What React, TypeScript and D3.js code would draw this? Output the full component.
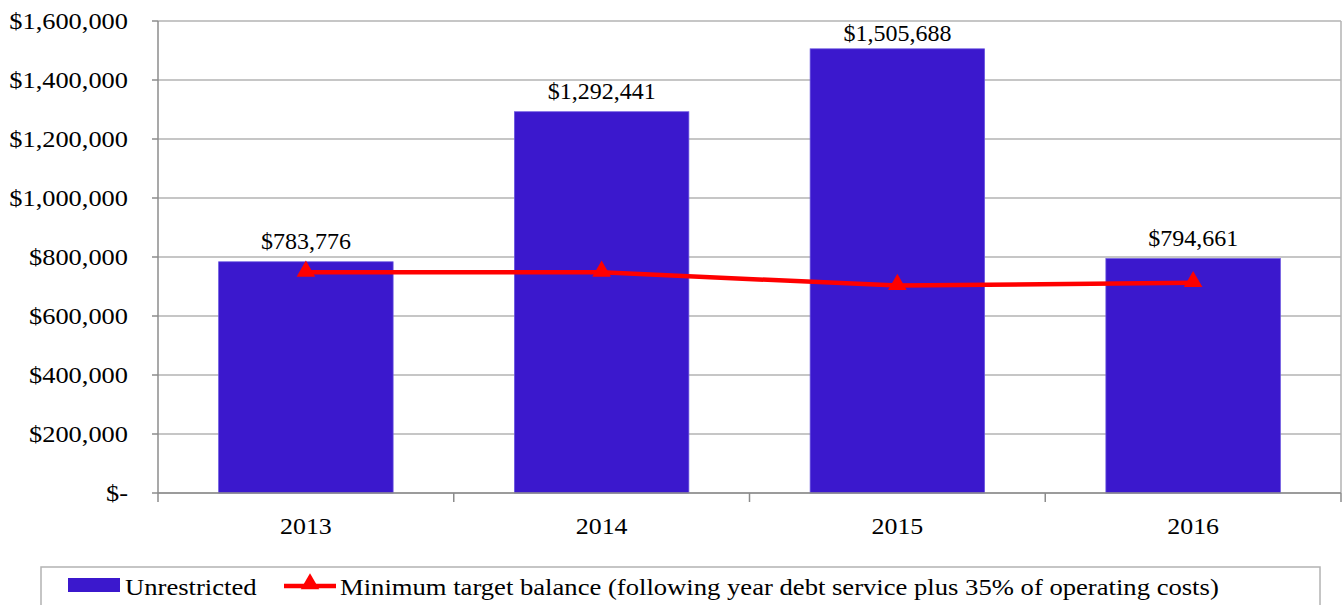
import React from "react";
import * as d3 from "d3";

const years = ["2013", "2014", "2015", "2016"];
const unrestricted = [783776, 1292441, 1505688, 794661];
const minTarget = [748000, 748000, 703000, 713000];
const yTicks = [0, 200000, 400000, 600000, 800000, 1000000, 1200000, 1400000, 1600000];
const legendLabels = [
  "Unrestricted",
  "Minimum target balance (following year debt service plus 35% of operating costs)",
];

const W = 1343;
const H = 605;
const left = 158;
const right = 1341;
const top = 21;
const bottom = 493;
const FONT = "Liberation Serif, serif";
const FS = 24;

function T(props: { x: number; y: number; sx?: number; anchor?: string; children: React.ReactNode }) {
  return (
    <text
      transform={`translate(${props.x},${props.y}) scale(${props.sx ?? 1.1},1)`}
      textAnchor={props.anchor || "start"}
      fontFamily={FONT}
      fontSize={FS}
      fill="#000"
    >
      {props.children}
    </text>
  );
}

export default function App() {
  const x = d3.scaleBand<string>().domain(years).range([left, right]).paddingInner(0).paddingOuter(0);
  const y = d3.scaleLinear().domain([0, 1600000]).range([bottom, top]);
  const barW = x.bandwidth() * 0.59;
  const fmt = d3.format(",");
  const tickLabel = (v: number) => (v === 0 ? "$-" : "$" + fmt(v));
  const cx = (d: string) => (x(d) as number) + x.bandwidth() / 2;
  const line = d3
    .line<number>()
    .x((_, i) => cx(years[i]))
    .y((d) => y(d));
  const tri = d3.symbol().type(d3.symbolTriangle).size(150);

  return (
    <div style={{ position: "absolute", left: 0, top: 0 }}>
      <svg width={W} height={H} style={{ display: "block", background: "#fff" }}>
        {yTicks.map((t) => (
          <line key={"g" + t} x1={left} x2={right} y1={y(t)} y2={y(t)} stroke="#b3b3b3" strokeWidth={1.5} />
        ))}
        <line x1={right} x2={right} y1={top} y2={bottom} stroke="#b3b3b3" strokeWidth={1.5} />
        {unrestricted.map((v, i) => (
          <rect
            key={"b" + i}
            x={cx(years[i]) - barW / 2}
            y={y(v)}
            width={barW}
            height={bottom - y(v)}
            fill="#3B18CD"
            stroke="#6A55E0"
            strokeWidth={0.75}
          />
        ))}
        <line x1={left} x2={left} y1={top} y2={bottom + 9} stroke="#8c8c8c" strokeWidth={1.5} />
        <line x1={left} x2={right} y1={bottom} y2={bottom} stroke="#8c8c8c" strokeWidth={1.5} />
        {yTicks.map((t) => (
          <line key={"yt" + t} x1={left - 6} x2={left} y1={y(t)} y2={y(t)} stroke="#8c8c8c" strokeWidth={1.5} />
        ))}
        {years.map((d) => (
          <line key={"xt" + d} x1={(x(d) as number) + x.bandwidth()} x2={(x(d) as number) + x.bandwidth()} y1={bottom} y2={bottom + 9} stroke="#8c8c8c" strokeWidth={1.5} />
        ))}
        {yTicks.map((t) => (
          <T key={"yl" + t} x={128} y={y(t) + 8} anchor="end">
            {tickLabel(t)}
          </T>
        ))}
        {years.map((d) => (
          <T key={"xl" + d} x={cx(d)} y={bottom + 41} sx={1.08} anchor="middle">
            {d}
          </T>
        ))}
        {unrestricted.map((v, i) => (
          <T key={"dl" + i} x={cx(years[i])} y={Math.max(y(v) - 13, top + 20)} sx={1.0} anchor="middle">
            {"$" + fmt(v)}
          </T>
        ))}
        <path d={line(minTarget) || ""} fill="none" stroke="#FF0000" strokeWidth={4.5} />
        {minTarget.map((v, i) => (
          <path key={"m" + i} d={tri() || ""} transform={`translate(${cx(years[i])},${y(v) - 1})`} fill="#FF0000" />
        ))}
        <rect x={41} y={567} width={1279} height={50} fill="#fff" stroke="#b3b3b3" strokeWidth={1.5} />
        <rect x={68} y={578} width={52} height={14} fill="#3B18CD" />
        <T x={125} y={595} sx={1.11}>{legendLabels[0]}</T>
        <line x1={284} x2={336} y1={586} y2={586} stroke="#FF0000" strokeWidth={4.5} />
        <path d={tri() || ""} transform="translate(310,584)" fill="#FF0000" />
        <T x={340} y={595} sx={1.11}>{legendLabels[1]}</T>
      </svg>
    </div>
  );
}
